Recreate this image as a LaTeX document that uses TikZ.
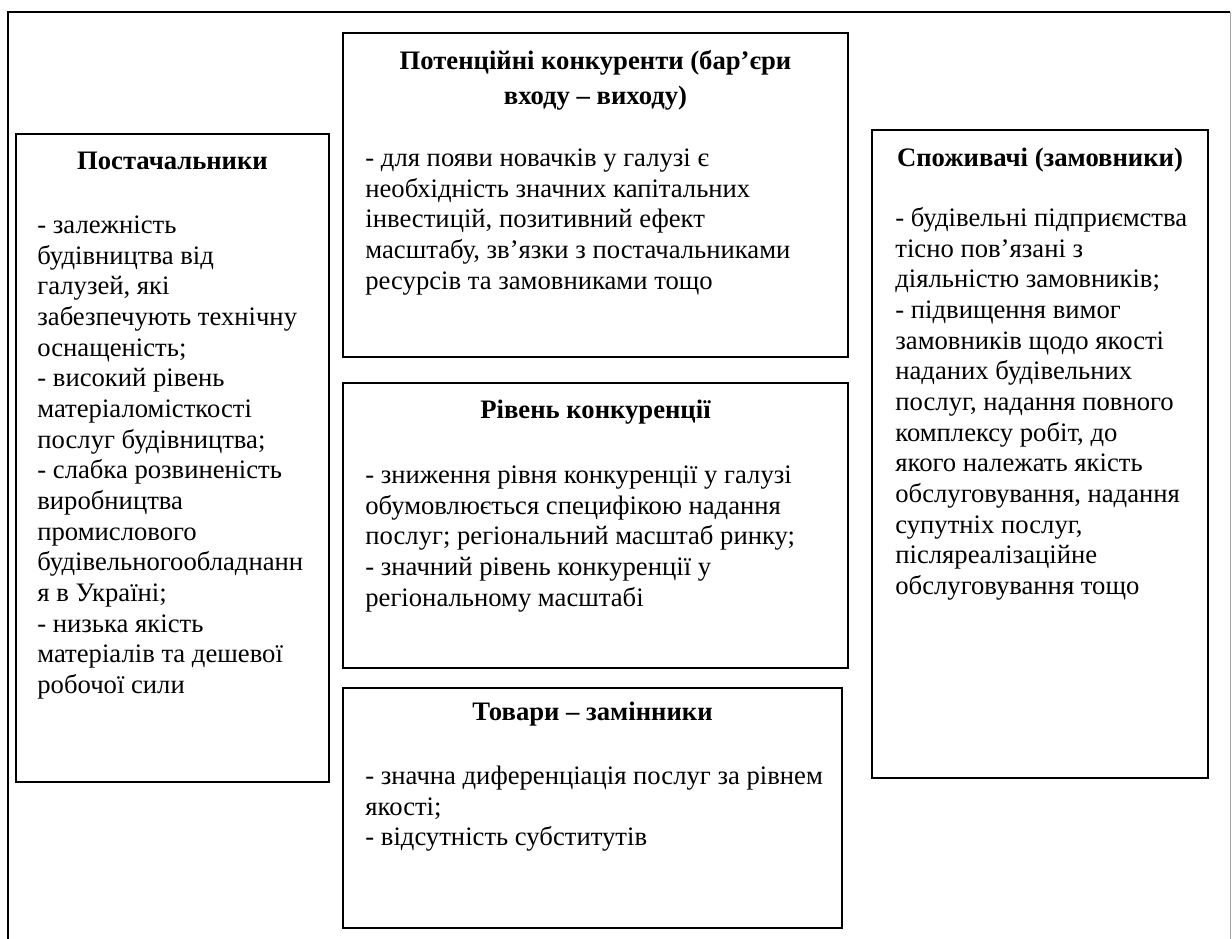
\documentclass[tikz,border=0pt]{standalone}
\usepackage{fontspec}
\setmainfont{Liberation Serif}
\usetikzlibrary{fit}

\begin{document}
\begin{tikzpicture}[x=0.525pt, y=-0.525pt,
  panel/.style={draw, line width=0.9pt, inner sep=0pt},
  head/.style={anchor=north, align=center, inner sep=0pt, font=\fontsize{14}{18.4}\selectfont\bfseries},
  body/.style={anchor=north west, align=left, inner sep=0pt, font=\fontsize{14}{16.1}\selectfont}]
  \useasboundingbox (0,0) rectangle (1232,939);

  % Outer frame (open at the bottom)
  \draw[line width=0.6pt] (8,939) -- (8,12) -- (1230,12);
  \draw[gray!70, line width=0.4pt] (1230,12) -- (1230,939);

  % Boxes
  \node[panel, fit={(16,134) (329,782)}] (supl) {};
  \node[panel, fit={(343,33) (848,357)}] (entr) {};
  \node[panel, fit={(343,383) (848,668)}] (rival) {};
  \node[panel, fit={(343,688) (842,928)}] (subst) {};
  \node[panel, fit={(872,130) (1208,778)}] (cust) {};

  % Suppliers
  \node[head] (suplhead) at (172.5,144.5) {\strut Постачальники};
  \node[body] (supltext) at (37,211.5) {\strut - залежність\\
    будівництва від\\
    галузей, які\\
    забезпечують технічну\\
    оснащеність;\\
    - високий рівень\\
    матеріаломісткості\\
    послуг будівництва;\\
    - слабка розвиненість\\
    виробництва\\
    промислового\\
    будівельногообладнанн\\
    я в Україні;\\
    - низька якість\\
    матеріалів та дешевої\\
    робочої сили};

  % Potential entrants
  \node[head] (entrhead) at (595.5,44.5) {\strut Потенційні конкуренти (бар’єри\\ входу – виходу)};
  \node[body] (entrtext) at (365,144.5) {\strut - для появи новачків у галузі є\\
    необхідність значних капітальних\\
    інвестицій, позитивний ефект\\
    масштабу, зв’язки з постачальниками\\
    ресурсів та замовниками тощо};

  % Rivalry
  \node[head] (rivalhead) at (595.5,393.5) {\strut Рівень конкуренції};
  \node[body] (rivaltext) at (365,461.5) {\strut - зниження рівня конкуренції у галузі\\
    обумовлюється специфікою надання\\
    послуг; регіональний масштаб ринку;\\
    - значний рівень конкуренції у\\
    регіональному масштабі};

  % Substitutes
  \node[head] (substhead) at (592.5,695.5) {\strut Товари – замінники};
  \node[body] (substtext) at (365,762.5) {\strut - значна диференціація послуг за рівнем\\
    якості;\\
    - відсутність субститутів};

  % Customers
  \node[head] (custhead) at (1040,141.5) {\strut Споживачі (замовники)};
  \node[body] (custtext) at (895,204.5) {\strut - будівельні підприємства\\
    тісно пов’язані з\\
    діяльністю замовників;\\
    - підвищення вимог\\
    замовників щодо якості\\
    наданих будівельних\\
    послуг, надання повного\\
    комплексу робіт, до\\
    якого належать якість\\
    обслуговування, надання\\
    супутніх послуг,\\
    післяреалізаційне\\
    обслуговування тощо};
\end{tikzpicture}
\end{document}
